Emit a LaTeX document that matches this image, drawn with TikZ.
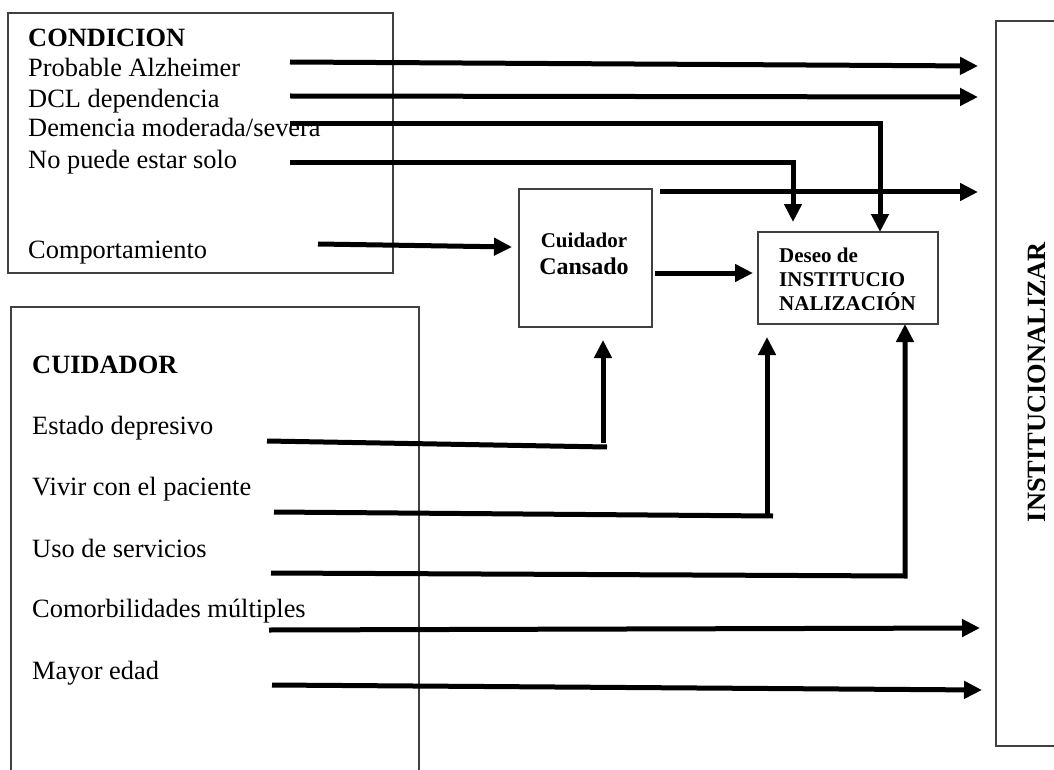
\documentclass[tikz,border=0pt]{standalone}
\usepackage{fontspec}
\setmainfont{Liberation Serif}
\usetikzlibrary{arrows.meta}
\begin{document}
\begin{tikzpicture}[x=1pt,y=-1pt,
  frame/.style={draw=black!75,line width=1.2pt,inner sep=0pt,outer sep=0pt,anchor=north west},
  lbl/.style={anchor=base west,inner sep=0pt,font=\fontsize{26.4}{30}\selectfont},
  hd/.style={anchor=base west,inner sep=0pt,font=\fontsize{26.4}{30}\selectfont\bfseries},
  sm/.style={anchor=base west,inner sep=0pt,font=\fontsize{21}{24}\selectfont\bfseries},
  conn/.style={line width=5pt},
  arr/.style={line width=5pt,-{Triangle[length=18pt,width=17pt]}}
]
\useasboundingbox (0,0) rectangle (1054,770);
% boxes
\node[frame,minimum width=385pt,minimum height=260pt] (cond) at (8,13) {};
\node[frame,minimum width=408pt,minimum height=490pt] (cuid) at (11,307) {};
\node[frame,minimum width=133pt,minimum height=138pt] (cc) at (519,189) {};
\node[frame,minimum width=180pt,minimum height=92pt] (deseo) at (758,232) {};
\node[frame,minimum width=90pt,minimum height=725pt] (inst) at (996,21) {};
% texts
\node[hd] (tcond) at (28,47) {CONDICION};
\node[lbl] (tpa) at (28,77) {Probable Alzheimer};
\node[lbl] (tdcl) at (28,108) {DCL dependencia};
\node[lbl] (tdem) at (28,137) {Demencia moderada/severa};
\node[lbl] (tnp) at (28,168) {No puede estar solo};
\node[lbl] (tcomp) at (28,258) {Comportamiento};
\node[hd] (tcuid) at (32,373) {CUIDADOR};
\node[lbl] (ted) at (32,434) {Estado depresivo};
\node[lbl] (tviv) at (32,495) {Vivir con el paciente};
\node[lbl] (tuso) at (32,557) {Uso de servicios};
\node[lbl] (tcom) at (32,617) {Comorbilidades múltiples};
\node[lbl] (tmay) at (32,679) {Mayor edad};
\node[anchor=base,inner sep=0pt,font=\fontsize{21}{24}\selectfont\bfseries] (tcc1) at (584,247) {Cuidador};
\node[anchor=base,inner sep=0pt,font=\fontsize{24}{28}\selectfont\bfseries] (tcc2) at (584,274) {Cansado};
\node[sm] (tds1) at (779,262) {Deseo de};
\node[sm] (tds2) at (779,286) {INSTITUCIO};
\node[sm] (tds3) at (779,310) {NALIZACIÓN};
\node[rotate=90,inner sep=0pt,font=\fontsize{26.4}{30}\selectfont\bfseries] (tinst) at (1037,382) {INSTITUCIONALIZAR};
% connector end points
\coordinate (pa1) at (290,62);  \coordinate (pa2) at (978,66);
\coordinate (dc1) at (290,96);  \coordinate (dc2) at (978,97);
\coordinate (de1) at (290,124); \coordinate (dex) at (880,0);
\coordinate (np1) at (290,163); \coordinate (np2) at (793,222);
\coordinate (ci1) at (660,192); \coordinate (ci2) at (978,192);
\coordinate (co1) at (318,244); \coordinate (co2) at (512,247);
\coordinate (cd1) at (655,273); \coordinate (cd2) at (753,273);
\coordinate (ed1) at (267,441); \coordinate (ed2) at (607,447);
\coordinate (ed3) at (603,443); \coordinate (ed4) at (603,340);
\coordinate (vi1) at (274,512); \coordinate (vi2) at (773,516);
\coordinate (vi3) at (767,518); \coordinate (vi4) at (767,337);
\coordinate (us1) at (271,573); \coordinate (us2) at (905,576);
\coordinate (cm1) at (269,630); \coordinate (cm2) at (980,628);
\coordinate (my1) at (272,685); \coordinate (my2) at (982,690);
% connectors
\draw[arr] (pa1) -- (pa2);
\draw[arr] (dc1) -- (dc2);
\draw[arr] (de1) -| (deseo.north -| dex);
\draw[arr] (np1) -| (np2);
\draw[arr] (ci1) -- (ci2);
\draw[arr] (co1) -- (co2);
\draw[arr] (cd1) -- (cd2);
\draw[conn] (ed1) -- (ed2);
\draw[arr] (ed3) -- (ed4);
\draw[conn] (vi1) -- (vi2);
\draw[arr] (vi3) -- (vi4);
\draw[arr] (us1) -- (us2) -- (deseo.south -| us2);
\draw[arr] (cm1) -- (cm2);
\draw[arr] (my1) -- (my2);
\end{tikzpicture}
\end{document}
